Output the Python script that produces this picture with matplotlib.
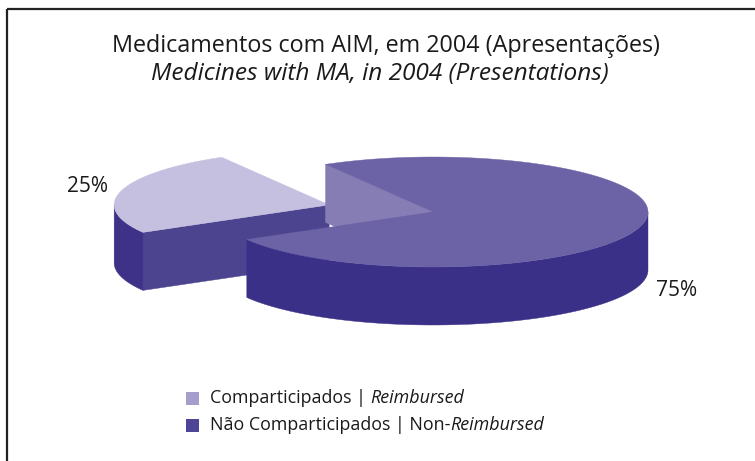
import numpy as np
import matplotlib
matplotlib.use("Agg")
import matplotlib.pyplot as plt
from matplotlib.patches import Polygon, Rectangle

# ---- data ----
categories = ["Comparticipados", "Não Comparticipados"]
categories_en = ["Reimbursed", "Non-Reimbursed"]
shares = [25, 75]
pct_labels = ["25%", "75%"]
explode = [0.5, 0.0]

title_pt = "Medicamentos com AIM, em 2004 (Apresentações)"
title_en = "Medicines with MA, in 2004 (Presentations)"

# ---- style ----
top_colors = ["#c5c0e0", "#6c62a6"]
side_colors = ["#4d4490", "#877db5"]
curve_colors = ["#3d3288", "#3b3087"]
legend_colors = ["#a59dcc", "#4f4597"]

plt.rcParams['font.family'] = ['Open Sans', 'DejaVu Sans']

W, H = 755, 461
fig = plt.figure(figsize=(W / 100, H / 100), dpi=100)
ax = fig.add_axes([0, 0, 1, 1])
ax.set_xlim(0, W)
ax.set_ylim(H, 0)
ax.axis("off")

# frame lines (top and left)
ax.plot([7, W], [9, 9], color="#222222", lw=1.6, solid_capstyle="butt")
ax.plot([7, 7], [9, H], color="#222222", lw=1.6, solid_capstyle="butt")

# pie geometry
cx, cy = 433, 212
a, b = 215, 55
h = 58
start = 120.0


def pt(t, ox, oy, dz=0.0):
    t = np.radians(t)
    return np.column_stack([ox + a * np.cos(t), oy - b * np.sin(t) + dz])


total = sum(shares)
angles = []
cur = start
for s in shares:
    angles.append((cur, cur + 360.0 * s / total))
    cur += 360.0 * s / total

for i, (t1, t2) in enumerate(angles):
    mid = np.radians((t1 + t2) / 2)
    ox = cx + explode[i] * a * np.cos(mid)
    oy = cy - explode[i] * b * np.sin(mid)
    ts = np.linspace(t1, t2, 400)
    # radial faces, visible ones (drawn first)
    for te, sgn in ((t1, -1), (t2, 1)):
        normal = np.radians(te + sgn * 90)
        if np.sin(normal) < 0:  # facing viewer
            p = pt([te], ox, oy)[0]
            face = np.array([[ox, oy], p, p + [0, h], [ox, oy + h]])
            ax.add_patch(Polygon(face, closed=True, facecolor=side_colors[i],
                                 edgecolor=side_colors[i], lw=0.3))
    # curved outer face (front part)
    vis = (np.mod(ts, 360) >= 180)
    if vis.any():
        idx = np.where(vis)[0]
        runs = np.split(idx, np.where(np.diff(idx) != 1)[0] + 1)
        for r in runs:
            tt = ts[r]
            topc = pt(tt, ox, oy)
            botc = pt(tt[::-1], ox, oy, h)
            ax.add_patch(Polygon(np.vstack([topc, botc]), closed=True,
                                 facecolor=curve_colors[i], edgecolor=curve_colors[i], lw=0.3))
    # top face
    top = np.vstack([[ox, oy], pt(ts, ox, oy)])
    ax.add_patch(Polygon(top, closed=True, facecolor=top_colors[i],
                         edgecolor=top_colors[i], lw=0.3))

# percentage labels
ax.text(88, 186, pct_labels[0], fontsize=15, ha="center", va="center", color="#1a1a1a")
ax.text(677, 290, pct_labels[1], fontsize=15, ha="center", va="center", color="#1a1a1a")

# title
ax.text(386, 46, title_pt, fontsize=16.8, ha="center", va="center", color="#1a1a1a")
ax.text(380, 74, title_en, fontsize=17.6, ha="center", va="center", color="#1a1a1a", style="italic")

# legend
for i, (c, e) in enumerate(zip(categories, categories_en)):
    y = 398 + i * 27
    ax.add_patch(Rectangle((186, y - 6.5), 13, 13, facecolor=legend_colors[i], edgecolor="none"))
    if i == 0:
        t = ax.text(210, y, c + " | ", fontsize=12.9, va="center", color="#1a1a1a")
    else:
        t = ax.text(210, y, c + " | Non-", fontsize=12.9, va="center", color="#1a1a1a")
    fig.canvas.draw()
    bb = t.get_window_extent()
    inv = ax.transData.inverted()
    x_end = inv.transform((bb.x1, bb.y0))[0]
    ax.text(x_end, y, "Reimbursed", fontsize=12.9, va="center", color="#1a1a1a", style="italic")

fig.savefig("out.png", dpi=100)
